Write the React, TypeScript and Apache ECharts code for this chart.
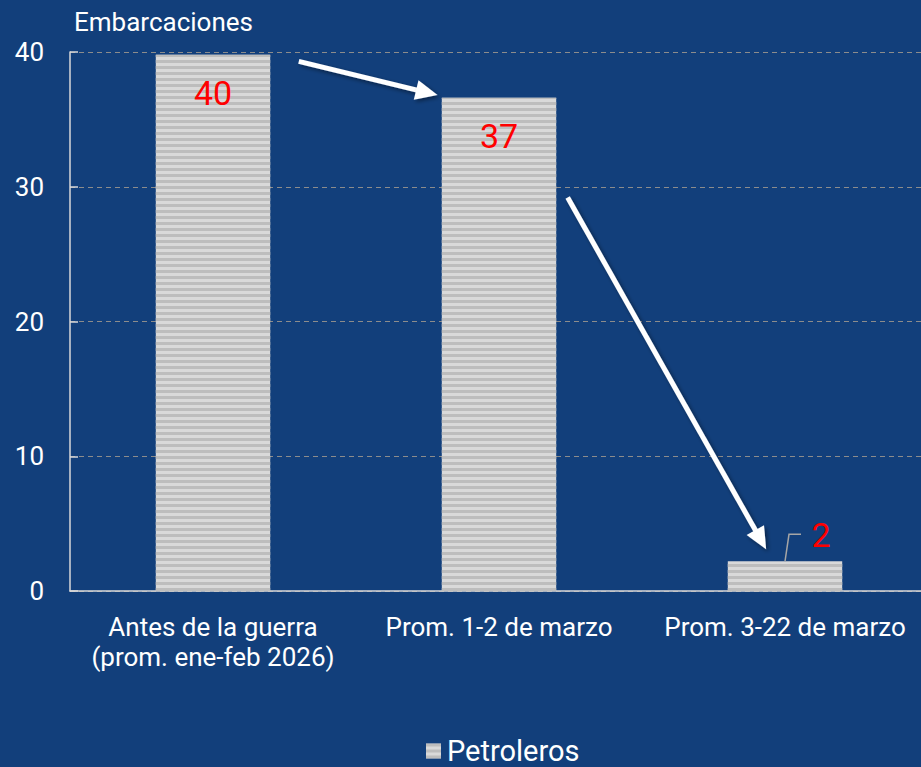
import React, { useEffect, useRef } from "react";
import * as echarts from "echarts";

const categories = ["Antes de la guerra\n(prom. ene-feb 2026)", "Prom. 1-2 de marzo", "Prom. 3-22 de marzo"];
const values = [39.8, 36.6, 2.2];
const valueLabels = ["40", "37", "2"];
const seriesName = "Petroleros";
const yTicks = [0, 10, 20, 30, 40];

const BG = "#123F7B";

export default function App() {
  const ref = useRef<HTMLDivElement>(null);
  useEffect(() => {
    if (!ref.current) return;
    const chart = echarts.init(ref.current, null, { renderer: "svg" });
    const labelFont = { color: "#ff0000", fontSize: 34, fontFamily: "Roboto" };
    chart.setOption({
      animation: false,
      backgroundColor: BG,
      title: {
        text: "Embarcaciones",
        left: 69,
        top: 4,
        textStyle: { color: "#ffffff", fontSize: 26, fontWeight: "normal", fontFamily: "Roboto" },
      },
      grid: { left: 70, top: 52, width: 858, bottom: 176, containLabel: false },
      legend: {
        top: 736,
        left: 426,
        padding: 0,
        icon: "rect",
        itemWidth: 15,
        itemHeight: 15,
        itemGap: 6,
        textStyle: { color: "#ffffff", fontSize: 29, lineHeight: 30, fontFamily: "Roboto", padding: [0, 0, 0, 1] },
        data: [seriesName],
      },
      xAxis: {
        type: "category",
        data: categories,
        axisLine: { show: true, lineStyle: { color: "#d9d9d9", width: 1.5 } },
        axisTick: { show: false },
        axisLabel: {
          color: "#ffffff",
          fontSize: 26,
          fontFamily: "Roboto",
          lineHeight: 30,
          margin: 21,
          interval: 0,
        },
      },
      yAxis: {
        type: "value",
        min: yTicks[0],
        max: yTicks[yTicks.length - 1],
        interval: 10,
        axisLine: { show: true, lineStyle: { color: "#d9d9d9", width: 1.5 } },
        axisTick: { show: true, inside: true, length: 8, lineStyle: { color: "#d9d9d9", width: 1.5 } },
        axisLabel: { color: "#ffffff", fontSize: 26, fontFamily: "Roboto", margin: 26 },
        splitLine: { show: true, lineStyle: { color: "#8c8c8c", type: [5, 4], width: 1 } },
      },
      series: [
        {
          name: seriesName,
          type: "bar",
          barWidth: "40%",
          data: values.map((v, i) => ({
            value: v,
            label:
              i === 2
                ? { show: true, position: "top", distance: 5, offset: [36, -4], ...labelFont, formatter: valueLabels[i] }
                : { show: true, position: "insideTop", distance: 21, ...labelFont, formatter: valueLabels[i] },
          })),
          itemStyle: {
            color: "#d9d9d9",
            decal: {
              symbol: "rect",
              symbolSize: 1,
              dashArrayX: [1, 0],
              dashArrayY: [3, 3],
              color: "#bdbdbd",
              rotation: 0,
            },
          },
        },
      ],
    });

    const px = (c: number, v: number) => chart.convertToPixel({ seriesIndex: 0 }, [c, v]) as number[];
    const p0 = px(0, 0);
    const p1 = px(1, 0);
    const band = p1[0] - p0[0];
    const yOf = (v: number) => px(0, v)[1];
    const xOf = (c: number, frac: number) => px(c, 0)[0] + frac * band;

    const arrow = (x1: number, y1: number, x2: number, y2: number) => {
      const dx = x2 - x1;
      const dy = y2 - y1;
      const len = Math.sqrt(dx * dx + dy * dy);
      const ux = dx / len;
      const uy = dy / len;
      const headL = 22;
      const headW = 10;
      const bx = x2 - ux * headL;
      const by = y2 - uy * headL;
      const shadow = { shadowBlur: 4, shadowColor: "rgba(0,0,0,0.45)", shadowOffsetX: 2, shadowOffsetY: 2 };
      return [
        {
          type: "line",
          shape: { x1, y1, x2: bx + ux * 2, y2: by + uy * 2 },
          style: { stroke: "#ffffff", lineWidth: 5, ...shadow },
          z: 100,
        },
        {
          type: "polygon",
          shape: {
            points: [
              [x2, y2],
              [bx - uy * headW, by + ux * headW],
              [bx + uy * headW, by - ux * headW],
            ],
          },
          style: { fill: "#ffffff", ...shadow },
          z: 100,
        },
      ];
    };

    const topBar3 = px(2, values[2]);
    const graphics: any[] = [
      ...arrow(xOf(0, 0.3), yOf(39.3), xOf(0, 0.785), yOf(36.8)),
      ...arrow(xOf(1, 0.24), yOf(29.2), xOf(2, -0.066), yOf(3.1)),
      {
        type: "polyline",
        shape: {
          points: [
            [topBar3[0], topBar3[1]],
            [topBar3[0] + 4, topBar3[1] - 27],
            [topBar3[0] + 16, topBar3[1] - 27],
          ],
        },
        style: { stroke: "#a6a6a6", lineWidth: 1.5, fill: "none" },
        z: 100,
      },
    ];
    chart.setOption({ graphic: graphics });

    return () => chart.dispose();
  }, []);
  return (
    <div style={{ width: 921, height: 767, position: "absolute", left: 0, top: 0, overflow: "hidden" }}>
      <div ref={ref} style={{ width: 930, height: 767 }} />
    </div>
  );
}
